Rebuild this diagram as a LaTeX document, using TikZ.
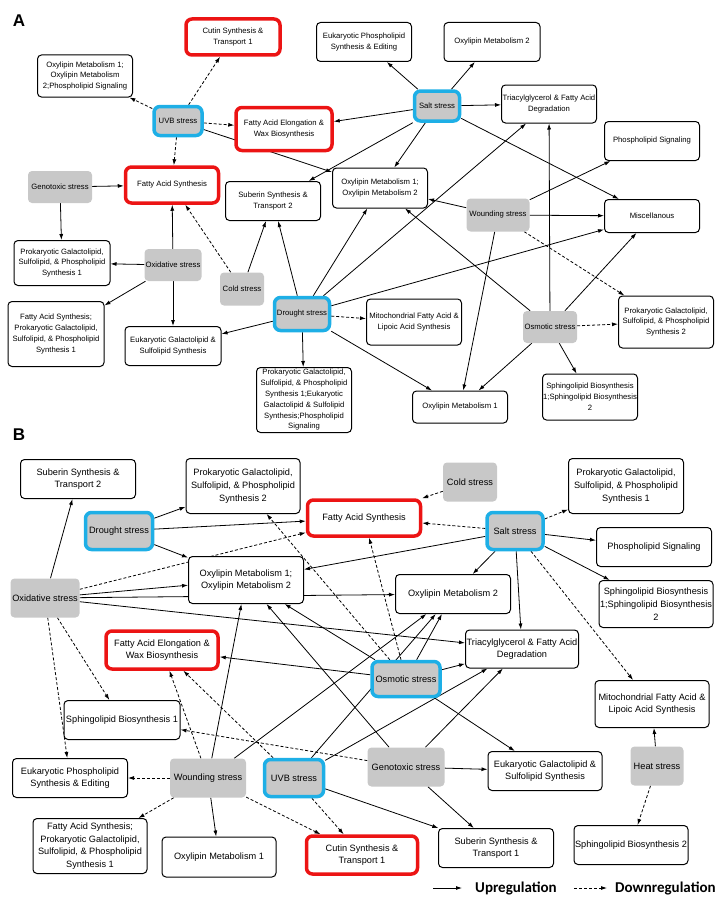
\documentclass[tikz,border=0pt]{standalone}
\usepackage{fontspec}
\setmainfont{Liberation Sans}
\newfontfamily\legendfont{Carlito}
\usetikzlibrary{arrows.meta}
\pgfdeclarelayer{background}
\pgfsetlayers{background,main}
\definecolor{stressgray}{RGB}{200,200,200}
\definecolor{hitred}{RGB}{236,20,20}
\definecolor{hitblue}{RGB}{30,175,230}
\tikzset{
  pw/.style={draw, line width=1pt, rounded corners=4pt, fill=white, align=center, inner sep=0pt},
  redpw/.style={pw, draw=hitred, line width=3.5pt, rounded corners=6pt},
  st/.style={fill=stressgray, rounded corners=4pt, align=center, inner sep=0pt},
  bluest/.style={st, draw=hitblue, line width=3.5pt, rounded corners=6pt},
  sz/.style 2 args={minimum width=#1pt, minimum height=#2pt},
  upreg/.style={-{Latex[length=6pt,width=4pt]}, line width=0.8pt},
  downreg/.style={upreg, dash pattern=on 3pt off 2pt},
  fa/.style={font=\fontsize{7.7}{10.8}\selectfont},
  fb/.style={font=\fontsize{9.2}{12.7}\selectfont},
}
\begin{document}
\begin{tikzpicture}[x=1pt,y=-1pt]
\useasboundingbox (0,0) rectangle (726,907);

\node[font=\fontsize{17}{17}\selectfont\bfseries] (labA) at (19,21) {A};
\node[font=\fontsize{17}{17}\selectfont\bfseries] (labB) at (19,435) {B};

% panel A
\begin{scope}[every node/.append style={fa}]
  \node[redpw, sz={94}{36}] (aCutin) at (233,37) {Cutin Synthesis \&\\Transport 1};
  \node[pw, sz={95}{42}] (aOxyPS) at (85,76) {Oxylipin Metabolism 1;\\Oxylipin Metabolism\\2;Phospholipid Signaling};
  \node[bluest, sz={48}{29}] (aUVB) at (178,121) {UVB stress};
  \node[redpw, sz={96}{43}] (aFAE) at (284,129) {Fatty Acid Elongation \&\\Wax Biosynthesis};
  \node[st, sz={64}{32}] (aGeno) at (60,187) {Genotoxic stress};
  \node[redpw, sz={93}{36}] (aFAS) at (172,185) {Fatty Acid Synthesis};
  \node[pw, sz={95}{39}] (aSub2) at (273,201) {Suberin Synthesis \&\\Transport 2};
  \node[pw, sz={95}{39}] (aEukPE) at (364,42) {Eukaryotic Phospholipid\\Synthesis \& Editing};
  \node[pw, sz={96}{39}] (aOxy2) at (492,42) {Oxylipin Metabolism 2};
  \node[bluest, sz={45}{30}] (aSalt) at (437,106) {Salt stress};
  \node[pw, sz={95}{38}] (aTAG) at (549,104) {Triacylglycerol \& Fatty Acid\\Degradation};
  \node[pw, sz={95}{39}] (aPS) at (652,141) {Phospholipid Signaling};
  \node[pw, sz={95}{33}] (aMisc) at (652,216) {Miscellanous};
  \node[pw, sz={95}{40}] (aOxy12) at (380,188) {Oxylipin Metabolism 1;\\Oxylipin Metabolism 2};
  \node[st, sz={63}{33}] (aWound) at (498,215) {Wounding stress};
  \node[pw, sz={96}{45}] (aProk1) at (62,263) {Prokaryotic Galactolipid,\\Sulfolipid, \& Phospholipid\\Synthesis 1};
  \node[st, sz={57}{32}] (aOxid) at (173,265) {Oxidative stress};
  \node[st, sz={44}{33}] (aCold) at (242,289) {Cold stress};
  \node[pw, sz={96}{65}] (aFASProk) at (56,334) {Fatty Acid Synthesis;\\Prokaryotic Galactolipid,\\Sulfolipid, \& Phospholipid\\Synthesis 1};
  \node[pw, sz={96}{39}] (aEukGS) at (173,346) {Eukaryotic Galactolipid \&\\Sulfolipid Synthesis};
  \node[bluest, sz={55}{33}] (aDrought) at (302,314) {Drought stress};
  \node[pw, sz={95}{65}] (aMix) at (304,400) {Prokaryotic Galactolipid,\\Sulfolipid, \& Phospholipid\\Synthesis 1;Eukaryotic\\Galactolipid \& Sulfolipid\\Synthesis;Phospholipid\\Signaling};
  \node[pw, sz={95}{46}] (aMito) at (414,322) {Mitochondrial Fatty Acid \&\\Lipoic Acid Synthesis};
  \node[st, sz={54}{32}] (aOsmo) at (550,327) {Osmotic stress};
  \node[pw, sz={95}{52}] (aProk2) at (666,322) {Prokaryotic Galactolipid,\\Sulfolipid, \& Phospholipid\\Synthesis 2};
  \node[pw, sz={95}{32}] (aOxy1) at (460,407) {Oxylipin Metabolism 1};
  \node[pw, sz={95}{46}] (aSph12) at (590,397) {Sphingolipid Biosynthesis\\1;Sphingolipid Biosynthesis\\2};
\end{scope}

% panel B
\begin{scope}[every node/.append style={fb}]
  \node[pw, sz={115}{39}] (bSub2) at (78,479) {Suberin Synthesis \&\\Transport 2};
  \node[pw, sz={114}{55}] (bProk2) at (243,486) {Prokaryotic Galactolipid,\\Sulfolipid, \& Phospholipid\\Synthesis 2};
  \node[bluest, sz={67}{37}] (bDrought) at (119,531) {Drought stress};
  \node[redpw, sz={113}{36}] (bFAS) at (364,518) {Fatty Acid Synthesis};
  \node[st, sz={54}{39}] (bCold) at (470,482) {Cold stress};
  \node[bluest, sz={56}{37}] (bSalt) at (515,531) {Salt stress};
  \node[pw, sz={115}{55}] (bProk1) at (626,486) {Prokaryotic Galactolipid,\\Sulfolipid, \& Phospholipid\\Synthesis 1};
  \node[pw, sz={115}{39}] (bPS) at (654,547) {Phospholipid Signaling};
  \node[pw, sz={114}{47}] (bSph12) at (656,604) {Sphingolipid Biosynthesis\\1;Sphingolipid Biosynthesis\\2};
  \node[pw, sz={115}{47}] (bOxy12) at (246,580) {Oxylipin Metabolism 1;\\Oxylipin Metabolism 2};
  \node[st, sz={69}{39}] (bOxid) at (45,598) {Oxidative stress};
  \node[pw, sz={115}{39}] (bOxy2) at (453,594) {Oxylipin Metabolism 2};
  \node[pw, sz={113}{38}] (bTAG) at (522,649) {Triacylglycerol \& Fatty Acid\\Degradation};
  \node[redpw, sz={112}{38}] (bFAE) at (162,650) {Fatty Acid Elongation \&\\Wax Biosynthesis};
  \node[bluest, sz={68}{35}] (bOsmo) at (406,679) {Osmotic stress};
  \node[pw, sz={116}{39}] (bSph1) at (122,720) {Sphingolipid Biosynthesis 1};
  \node[pw, sz={114}{47}] (bMito) at (652,704) {Mitochondrial Fatty Acid \&\\Lipoic Acid Synthesis};
  \node[pw, sz={115}{39}] (bEukPE) at (70,778) {Eukaryotic Phospholipid\\Synthesis \& Editing};
  \node[st, sz={76}{39}] (bWound) at (208,778) {Wounding stress};
  \node[bluest, sz={59}{37}] (bUVB) at (294,778) {UVB stress};
  \node[st, sz={77}{39}] (bGeno) at (406,767) {Genotoxic stress};
  \node[pw, sz={114}{39}] (bEukGS) at (545,771) {Eukaryotic Galactolipid \&\\Sulfolipid Synthesis};
  \node[st, sz={53}{39}] (bHeat) at (657,766) {Heat stress};
  \node[pw, sz={114}{55}] (bFASProk) at (90,846) {Fatty Acid Synthesis;\\Prokaryotic Galactolipid,\\Sulfolipid, \& Phospholipid\\Synthesis 1};
  \node[pw, sz={114}{40}] (bOxy1) at (219,857) {Oxylipin Metabolism 1};
  \node[redpw, sz={111}{38}] (bCutin) at (362,855) {Cutin Synthesis \&\\Transport 1};
  \node[pw, sz={115}{39}] (bSub1) at (496,848) {Suberin Synthesis \&\\Transport 1};
  \node[pw, sz={114}{39}] (bSph2) at (631,845) {Sphingolipid Biosynthesis 2};
\end{scope}

\begin{pgfonlayer}{background}
  % panel A connectors
  \path[upreg] (aGeno) edge (aFAS) edge (aProk1);
  \path[upreg] (aOxid) edge (aFAS) edge (aProk1) edge (aFASProk) edge (aEukGS);
  \path[upreg] (aCold) edge (aSub2);
  \path[downreg] (aCold) edge (aFAS);
  \path[upreg] (aUVB) edge (aOxy12);
  \path[downreg] (aUVB) edge (aCutin) edge (aOxyPS) edge (aFAE) edge (aFAS);
  \path[upreg] (aSalt) edge (aEukPE) edge (aOxy2) edge (aTAG) edge (aFAE)
    edge (aOxy12) edge (aMisc);
  \path[upreg] (aSalt.south west) edge (aSub2);
  \path[upreg] (aWound) edge (aPS) edge (aMisc) edge (aOxy12) edge (aOxy1);
  \path[downreg] (aWound) edge (aProk2);
  \path[upreg] (aOsmo) edge (aTAG) edge (aMisc) edge (aSph12) edge (aOxy1) edge (aOxy12);
  \path[downreg] (aOsmo) edge (aProk2);
  \path[upreg] (aDrought) edge (aSub2) edge (aOxy12) edge (aTAG) edge (aMisc)
    edge (aEukGS) edge (aMix) edge (aOxy1);
  \path[downreg] (aDrought) edge (aMito);

  % panel B connectors
  \path[upreg] (bDrought) edge (bProk2) edge (bFAS) edge (bOxy12);
  \path[upreg] (bOxid) edge (bSub2) edge (bOxy12) edge (bOxy2) edge (bTAG);
  \path[downreg] (bOxid) edge (bFAS) edge (bSph1) edge (bEukPE);
  \path[upreg] (bSalt) edge (bPS) edge (bSph12) edge (bOxy2) edge (bTAG) edge (bOxy12);
  \path[downreg] (bSalt) edge (bFAS) edge (bProk1) edge (bMito);
  \path[downreg] (bCold) edge (bFAS);
  \path[upreg] (bOsmo) edge (bOxy12) edge (bOxy2) edge (bTAG) edge (bFAE) edge (bEukGS);
  \path[downreg] (bOsmo) edge (bFAS) edge (bProk2);
  \path[upreg] (bWound) edge (bOxy1) edge (bOxy12) edge (bOxy2);
  \path[downreg] (bWound) edge (bEukPE) edge (bFASProk) edge (bCutin) edge (bFAE);
  \path[upreg] (bUVB) edge (bSub1) edge (bTAG) edge (bOxy2);
  \path[downreg] (bUVB) edge (bCutin) edge (bFAE);
  \path[upreg] (bGeno) edge (bEukGS) edge (bSub1) edge (bTAG) edge (bOxy12);
  \path[downreg] (bGeno) edge (bSph1);
  \path[upreg] (bHeat) edge (bMito);
  \path[downreg] (bHeat) edge (bSph2);
\end{pgfonlayer}

% legend
\coordinate (upS) at (433,888);
\coordinate (upE) at (462,888);
\coordinate (downS) at (574,888);
\coordinate (downE) at (607,888);
\draw[upreg] (upS) -- (upE);
\draw[downreg] (downS) -- (downE);
\node[anchor=west, inner sep=0pt, font=\legendfont\fontsize{15}{18}\selectfont\bfseries] (upT) at (475,888) {Upregulation};
\node[anchor=west, inner sep=0pt, font=\legendfont\fontsize{15}{18}\selectfont\bfseries] (downT) at (615,888) {Downregulation};
\end{tikzpicture}
\end{document}
